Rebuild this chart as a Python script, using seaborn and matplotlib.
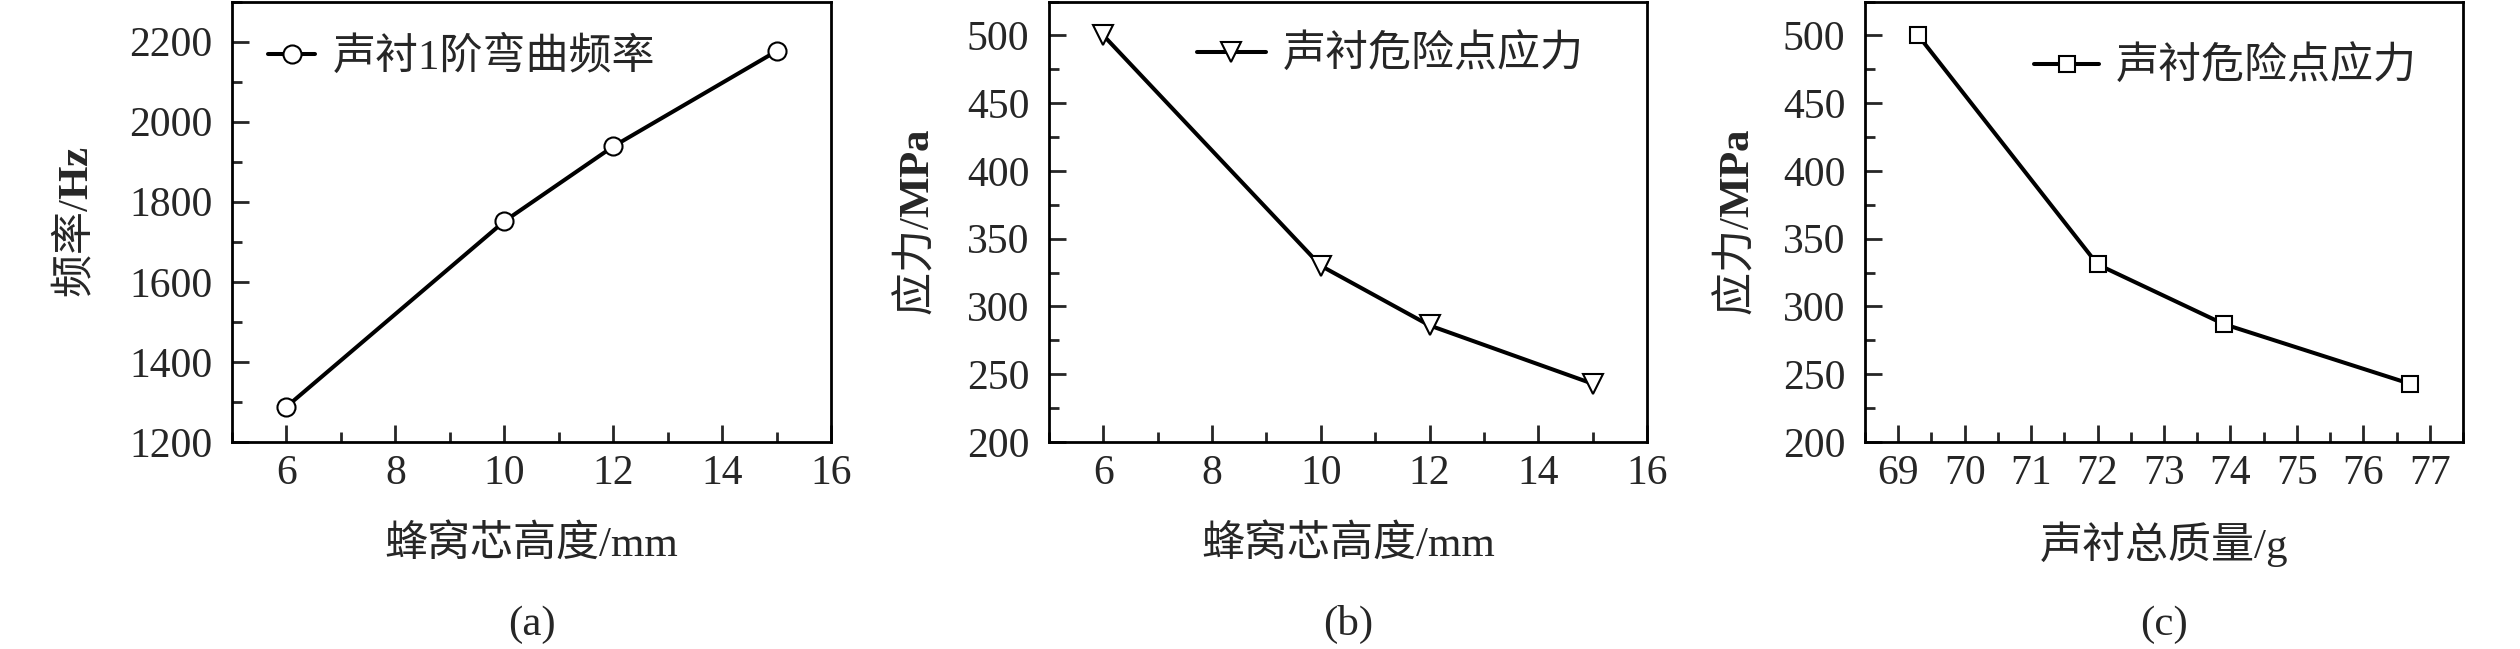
import matplotlib
matplotlib.use("Agg")
import matplotlib.pyplot as plt
import seaborn as sns
from matplotlib.ticker import MultipleLocator

# panel (a): honeycomb core height vs 1st bending frequency
height_mm = [6, 10, 12, 15]
freq_hz = [1288, 1751, 1938, 2176]

# panel (b): core height vs liner critical-point stress
stress_b = [500, 330, 286, 243]

# panel (c): total liner mass vs critical-point stress
mass_g = [69.3, 72.0, 73.9, 76.7]
stress_c = [500, 331, 287, 243]

sns.set_theme(style="ticks")
plt.rcParams["font.family"] = ["Liberation Serif", "Noto Sans CJK SC"]
plt.rcParams["mathtext.fontset"] = "custom"
plt.rcParams["mathtext.rm"] = "Noto Sans CJK SC"
plt.rcParams["mathtext.bf"] = "Liberation Serif:bold"
plt.rcParams["axes.linewidth"] = 2.0
plt.rcParams["xtick.direction"] = "in"
plt.rcParams["ytick.direction"] = "in"

W, H = 2520, 649
fig = plt.figure(figsize=(W / 100, H / 100), dpi=100)

def make_ax(left_px, width_px):
    return fig.add_axes([left_px / W, 1 - 442 / H, width_px / W, (442 - 1.5) / H])

ax_a = make_ax(232, 599)
ax_b = make_ax(1049, 598)
ax_c = make_ax(1865, 598)

line_kw = dict(color="black", linewidth=2.9, markerfacecolor="white",
               markeredgecolor="black", markeredgewidth=1.5)

sns.lineplot(x=height_mm, y=freq_hz, ax=ax_a, marker="o", markersize=13,
             label="声衬1阶弯曲频率", **line_kw)
sns.lineplot(x=height_mm, y=stress_b, ax=ax_b, marker="v", markersize=14,
             label="声衬危险点应力", **line_kw)
sns.lineplot(x=mass_g, y=stress_c, ax=ax_c, marker="s", markersize=11,
             label="声衬危险点应力", **line_kw)

ax_a.set_xlim(5, 16)
ax_a.set_ylim(1200, 2300)
ax_a.xaxis.set_major_locator(MultipleLocator(2))
ax_a.xaxis.set_minor_locator(MultipleLocator(1))
ax_a.yaxis.set_major_locator(MultipleLocator(200))
ax_a.yaxis.set_minor_locator(MultipleLocator(100))

ax_b.set_xlim(5, 16)
ax_b.set_ylim(200, 525)
ax_b.xaxis.set_major_locator(MultipleLocator(2))
ax_b.xaxis.set_minor_locator(MultipleLocator(1))
ax_b.yaxis.set_major_locator(MultipleLocator(50))
ax_b.yaxis.set_minor_locator(MultipleLocator(25))

ax_c.set_xlim(68.5, 77.5)
ax_c.set_ylim(200, 525)
ax_c.xaxis.set_major_locator(MultipleLocator(1))
ax_c.xaxis.set_minor_locator(MultipleLocator(0.5))
ax_c.yaxis.set_major_locator(MultipleLocator(50))
ax_c.yaxis.set_minor_locator(MultipleLocator(25))

xlabels = ["蜂窝芯高度/mm", "蜂窝芯高度/mm", "声衬总质量/g"]
ylabels = [r"$\mathrm{频率}$/$\mathbf{Hz}$", r"$\mathrm{应力}$/$\mathbf{MPa}$",
           r"$\mathrm{应力}$/$\mathbf{MPa}$"]
captions = ["(a)", "(b)", "(c)"]
ylab_x = [-0.262, -0.224, -0.216]
leg_pos = [(0.06, 0.873), (0.247, 0.878), (0.283, 0.851)]
handle_len = [1.1, 1.6, 1.5]

for ax, xl, yl, cap, yx, lp, hl in zip([ax_a, ax_b, ax_c], xlabels, ylabels,
                                      captions, ylab_x, leg_pos, handle_len):
    ax.tick_params(which="major", length=12, width=2.0, labelsize=30,
                   top=False, right=False)
    ax.tick_params(which="minor", length=7, width=2.0, top=False, right=False)
    ax.tick_params(axis="y", pad=14)
    ax.tick_params(axis="x", pad=9)
    for s in ax.spines.values():
        s.set_visible(True)
        s.set_color("black")
    ax.set_xlabel(xl, fontsize=31)
    ax.xaxis.label.set_va("center")
    ax.xaxis.set_label_coords(0.5, -0.233)
    ax.set_ylabel(yl, fontsize=31)
    ax.yaxis.label.set_va("center")
    ax.yaxis.set_label_coords(yx, 0.5)
    ax.text(0.5, -0.414, cap, transform=ax.transAxes, fontsize=31,
            ha="center", va="center")
    ax.legend(loc="center left", bbox_to_anchor=lp, frameon=False, fontsize=31,
              borderpad=0, borderaxespad=0, handlelength=hl, handletextpad=0.4)
    ax.grid(False)

fig.savefig("out.png", dpi=100, facecolor="white")
